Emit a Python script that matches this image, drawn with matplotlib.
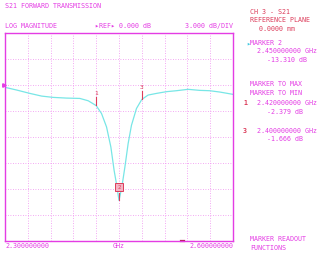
import numpy as np
import matplotlib
matplotlib.use('Agg')
import matplotlib.pyplot as plt

# trace (GHz, dB)
freq = [2.300, 2.3153, 2.3328, 2.3482, 2.3635, 2.381, 2.3985, 2.4095, 2.420,
        2.427, 2.4336, 2.4393, 2.4436, 2.4467, 2.450, 2.4537, 2.4577, 2.462,
        2.4664, 2.473, 2.480, 2.4883, 2.4993, 2.5124, 2.5255, 2.5409, 2.5562,
        2.5693, 2.5825, 2.600]
s21_db = [-0.27, -0.58, -0.97, -1.28, -1.43, -1.51, -1.55, -1.82, -2.379,
          -3.29, -4.84, -7.16, -9.87, -11.42, -13.31, -11.8, -9.5, -6.77,
          -4.65, -2.71, -1.666, -1.16, -0.97, -0.77, -0.66, -0.5, -0.62,
          -0.66, -0.81, -1.08]

marker_ids = ['1', '2', '3']
marker_freq = [2.42, 2.45, 2.48]
marker_db = [-2.379, -13.310, -1.666]

f_start, f_stop = 2.3, 2.6
ref_db = 0.0
db_per_div = 3.0

MAG = '#e43ce4'
RED = '#dc3c5a'
CYAN = '#78e6e6'
GRID = '#f08cf0'

plt.rcParams['font.family'] = ['DejaVu Sans Mono', 'DejaVu Sans']

fig = plt.figure(figsize=(3.21, 2.58), dpi=100)
ax = fig.add_axes([5 / 321, 17 / 258, 228 / 321, 208 / 258])

ax.set_xlim(f_start, f_stop)
ax.set_ylim(ref_db - 6 * db_per_div, ref_db + 2 * db_per_div)
ax.set_xticks(np.linspace(f_start, f_stop, 11))
ax.set_yticks(np.arange(ref_db - 6 * db_per_div, ref_db + 2 * db_per_div + 0.1, db_per_div))
ax.grid(True, color=GRID, linestyle=(0, (1, 2)), linewidth=0.6)
ax.tick_params(length=0, labelbottom=False, labelleft=False)
for sp in ax.spines.values():
    sp.set_color(MAG)
    sp.set_linewidth(1.0)

ax.plot(freq, s21_db, color=CYAN, linewidth=0.9)

# markers
for mid, mf, md in zip(marker_ids, marker_freq, marker_db):
    if mid == '2':
        ax.plot([mf, mf], [md, md + 0.9], color=RED, linewidth=0.8)
        ax.plot(mf, md + 1.5, marker='s', markersize=6, markerfacecolor='#f4b4c4',
                markeredgecolor=RED, markeredgewidth=0.7)
        ax.text(mf, md + 1.5, mid, color=RED, fontsize=4, ha='center', va='center')
    else:
        ax.plot([mf, mf], [md + 0.1, md + 1.0], color=RED, linewidth=0.8)
        ax.text(mf, md + 1.1, mid, color=RED, fontsize=4.5, ha='center', va='bottom')

# reference arrow on the left, small indicator on the bottom edge
ax.plot(f_start - 0.0015, ref_db, marker='>', markersize=2.5, color=MAG, clip_on=False)
ax.plot([2.532, 2.536], [-18, -18], color='#b02050', linewidth=1.6, clip_on=False)

fs = 4.8
fig.text(5 / 321, 1 - 6 / 258, 'S21 FORWARD TRANSMISSION', color=MAG, fontsize=fs, va='center')
fig.text(5 / 321, 1 - 26 / 258, 'LOG MAGNITUDE', color=MAG, fontsize=fs, va='center')
fig.text(95 / 321, 1 - 26 / 258, '\u25b8REF\u25b8 0.000 dB', color=MAG, fontsize=fs, va='center')
fig.text(233 / 321, 1 - 26 / 258, '3.000 dB/DIV', color=MAG, fontsize=fs, va='center', ha='right')

fig.text(5 / 321, 1 - 246 / 258, '2.300000000', color=MAG, fontsize=fs, va='center')
fig.text(119 / 321, 1 - 246 / 258, 'GHz', color=MAG, fontsize=fs, va='center', ha='center')
fig.text(233 / 321, 1 - 246 / 258, '2.600000000', color=MAG, fontsize=fs, va='center', ha='right')

rx = 250 / 321
fig.text(rx, 1 - 12 / 258, 'CH 3 - S21', color=RED, fontsize=fs, va='center')
fig.text(rx, 1 - 20 / 258, 'REFERENCE PLANE', color=RED, fontsize=fs, va='center')
fig.text(259 / 321, 1 - 29 / 258, '0.0000 mm', color=RED, fontsize=fs, va='center')
fig.text(246 / 321, 1 - 43 / 258, '\u25b8', color='#40c8e0', fontsize=fs, va='center')
fig.text(rx, 1 - 43 / 258, 'MARKER 2', color=MAG, fontsize=fs, va='center')
fig.text(257 / 321, 1 - 51 / 258, '2.450000000 GHz', color=MAG, fontsize=fs, va='center')
fig.text(267 / 321, 1 - 60 / 258, '-13.310 dB', color=MAG, fontsize=fs, va='center')
fig.text(rx, 1 - 84 / 258, 'MARKER TO MAX', color=MAG, fontsize=fs, va='center')
fig.text(rx, 1 - 93 / 258, 'MARKER TO MIN', color=MAG, fontsize=fs, va='center')
fig.text(243 / 321, 1 - 103 / 258, '1', color=RED, fontsize=fs, va='center', fontweight='bold')
fig.text(257 / 321, 1 - 103 / 258, '2.420000000 GHz', color=MAG, fontsize=fs, va='center')
fig.text(267 / 321, 1 - 112 / 258, '-2.379 dB', color=MAG, fontsize=fs, va='center')
fig.text(243 / 321, 1 - 131 / 258, '3', color=RED, fontsize=fs, va='center', fontweight='bold')
fig.text(257 / 321, 1 - 131 / 258, '2.400000000 GHz', color=MAG, fontsize=fs, va='center')
fig.text(267 / 321, 1 - 139 / 258, '-1.666 dB', color=MAG, fontsize=fs, va='center')
fig.text(rx, 1 - 239 / 258, 'MARKER READOUT', color=MAG, fontsize=fs, va='center')
fig.text(rx, 1 - 248 / 258, 'FUNCTIONS', color=MAG, fontsize=fs, va='center')

fig.savefig('out.png', dpi=100)
